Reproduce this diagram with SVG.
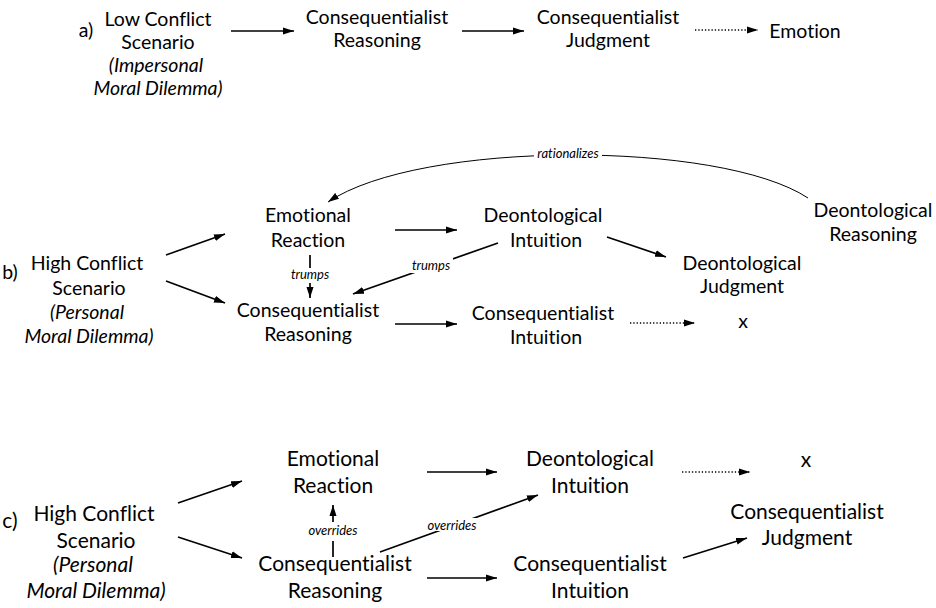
<svg xmlns="http://www.w3.org/2000/svg" width="936" height="608" viewBox="0 0 936 608">
<defs>
<marker id="ah" markerUnits="userSpaceOnUse" markerWidth="11" markerHeight="8" refX="11" refY="4" orient="auto">
<path d="M0,0.5 L11,4 L0,7.5 z" fill="#000"/>
</marker>
<style>
text{font-family:Lato,"Open Sans","DejaVu Sans",sans-serif;fill:#000;text-anchor:middle;font-variant-ligatures:none;font-feature-settings:"liga" 0}
.t{font-size:19.5px}
.tc{font-size:21px}
.i{font-style:italic}
.s{font-size:13px;font-style:italic}
.l{fill:none;stroke:#000;stroke-width:1.7;marker-end:url(#ah)}
.d{fill:none;stroke:#000;stroke-width:1.6;stroke-dasharray:1.3 2;marker-end:url(#ah)}
.c{fill:none;stroke:#000;stroke-width:1}
.bg{fill:#fff}
</style>
</defs>
<rect width="936" height="608" fill="#fff"/>

<g id="connectors">
<!-- a -->
<line class="l" x1="231" y1="31" x2="294" y2="31"/>
<line class="l" x1="462" y1="31" x2="524" y2="31"/>
<line class="d" x1="695" y1="30" x2="758" y2="30"/>
<!-- b -->
<path class="c" d="M808,198 C720,140 420,140 328,202" marker-end="url(#ah)"/>
<rect class="bg" x="534" y="146" width="68" height="14"/>
<text class="s" x="568" y="158">rationalizes</text>
<line class="l" x1="166" y1="255" x2="225" y2="234"/>
<line class="l" x1="166" y1="281" x2="225" y2="303"/>
<line class="l" x1="395" y1="230" x2="457" y2="230"/>
<line class="l" x1="395" y1="324" x2="457" y2="324"/>
<line class="l" x1="310" y1="255" x2="310" y2="298"/>
<rect class="bg" x="290" y="268" width="40" height="15"/>
<text class="s" x="310" y="279">trumps</text>
<line class="l" x1="498" y1="243" x2="353" y2="294"/>
<rect class="bg" x="410" y="258" width="43" height="15"/>
<text class="s" x="431" y="270">trumps</text>
<line class="l" x1="607" y1="237" x2="666" y2="257"/>
<line class="d" x1="630" y1="323" x2="695" y2="323"/>
<!-- c -->
<line class="l" x1="178" y1="503" x2="242" y2="481"/>
<line class="l" x1="178" y1="537" x2="242" y2="558"/>
<line class="l" x1="333" y1="557" x2="333" y2="505"/>
<rect class="bg" x="304" y="522" width="58" height="19"/>
<text class="s" x="333" y="535">overrides</text>
<line class="l" x1="380" y1="552" x2="538" y2="495"/>
<rect class="bg" x="424" y="518" width="57" height="13"/>
<text class="s" x="452" y="530">overrides</text>
<line class="l" x1="427" y1="472" x2="497" y2="472"/>
<line class="l" x1="427" y1="578" x2="497" y2="578"/>
<line class="d" x1="682" y1="472" x2="750" y2="472"/>
<line class="l" x1="683" y1="558" x2="747" y2="538"/>
</g>

<!-- section a -->
<g id="label-a"><text class="t" x="86" y="37">a)</text></g>
<g id="a-scenario">
<text class="t" x="158" y="26">Low Conflict</text>
<text class="t" x="158" y="49">Scenario</text>
<text class="t i" x="156" y="72">(Impersonal</text>
<text class="t i" x="158" y="95">Moral Dilemma)</text>
</g>
<g id="a-cons-reasoning">
<text class="t" x="377" y="24">Consequentialist</text>
<text class="t" x="377" y="47">Reasoning</text>
</g>
<g id="a-cons-judgment">
<text class="t" x="608" y="24">Consequentialist</text>
<text class="t" x="608" y="47">Judgment</text>
</g>
<g id="a-emotion"><text class="t" x="805" y="38">Emotion</text></g>

<!-- section b -->
<g id="label-b"><text class="t" x="10" y="279">b)</text></g>
<g id="b-scenario">
<text class="t" x="87" y="270">High Conflict</text>
<text class="t" x="89" y="295">Scenario</text>
<text class="t i" x="87" y="319">(Personal</text>
<text class="t i" x="89" y="343">Moral Dilemma)</text>
</g>
<g id="b-emotional-reaction">
<text class="t" x="308" y="222">Emotional</text>
<text class="t" x="308" y="247">Reaction</text>
</g>
<g id="b-cons-reasoning">
<text class="t" x="308" y="317">Consequentialist</text>
<text class="t" x="308" y="341">Reasoning</text>
</g>
<g id="b-deon-intuition">
<text class="t" x="543" y="222">Deontological</text>
<text class="t" x="546" y="247">Intuition</text>
</g>
<g id="b-cons-intuition">
<text class="t" x="543" y="320">Consequentialist</text>
<text class="t" x="546" y="344">Intuition</text>
</g>
<g id="b-deon-judgment">
<text class="t" x="742" y="270">Deontological</text>
<text class="t" x="742" y="293">Judgment</text>
</g>
<g id="b-deon-reasoning">
<text class="t" x="873" y="217">Deontological</text>
<text class="t" x="873" y="241">Reasoning</text>
</g>
<g id="b-x"><text class="t" x="743" y="328">x</text></g>

<!-- section c -->
<g id="label-c"><text class="tc" x="10" y="528">c)</text></g>
<g id="c-scenario">
<text class="tc" x="94" y="521">High Conflict</text>
<text class="tc" x="96" y="548">Scenario</text>
<text class="tc i" x="93" y="572">(Personal</text>
<text class="tc i" x="96" y="598">Moral Dilemma)</text>
</g>
<g id="c-emotional-reaction">
<text class="tc" x="333" y="466">Emotional</text>
<text class="tc" x="333" y="493">Reaction</text>
</g>
<g id="c-cons-reasoning">
<text class="tc" x="335" y="571">Consequentialist</text>
<text class="tc" x="335" y="598">Reasoning</text>
</g>
<g id="c-deon-intuition">
<text class="tc" x="590" y="466">Deontological</text>
<text class="tc" x="590" y="493">Intuition</text>
</g>
<g id="c-cons-intuition">
<text class="tc" x="590" y="571">Consequentialist</text>
<text class="tc" x="590" y="598">Intuition</text>
</g>
<g id="c-x"><text class="tc" x="806" y="467">x</text></g>
<g id="c-cons-judgment">
<text class="tc" x="807" y="519">Consequentialist</text>
<text class="tc" x="807" y="545">Judgment</text>
</g>
</svg>
